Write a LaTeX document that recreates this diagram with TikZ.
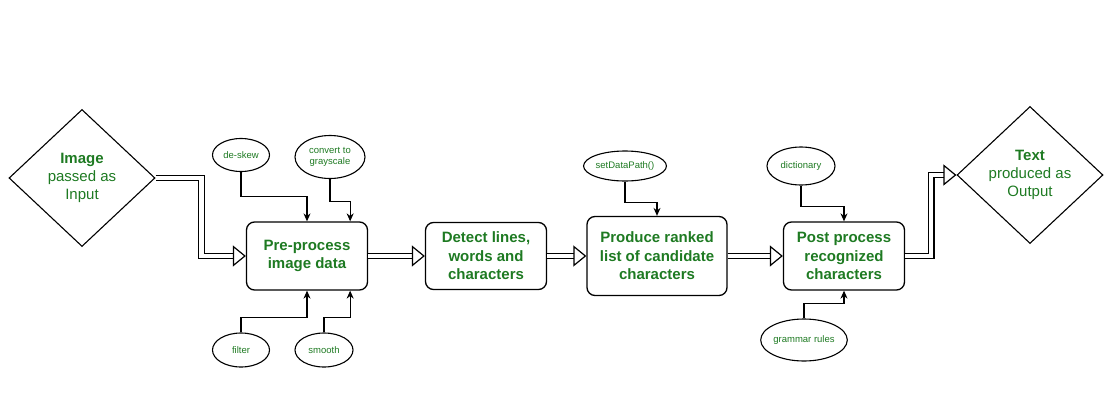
\documentclass[tikz,border=0pt]{standalone}
\usepackage{fontspec}
\setmainfont{Liberation Sans}
\usetikzlibrary{shapes.geometric,arrows.meta}
\definecolor{txtgreen}{RGB}{30,122,34}
\begin{document}
\begin{tikzpicture}[x=1pt, y=-1pt, line join=miter, >={Stealth[length=8pt,width=7pt]},
    proc/.style={draw, line width=1.3pt, rounded corners=8pt, align=center, inner sep=0pt,
        text=txtgreen, font=\fontsize{15}{18.5}\selectfont\bfseries},
    param/.style={draw, ellipse, line width=1.1pt, align=center, inner sep=0pt,
        text=txtgreen, font=\fontsize{9.5}{11}\selectfont},
    term/.style={draw, diamond, line width=1.1pt, align=center, inner sep=0pt,
        minimum width=146pt, minimum height=137pt, text=txtgreen,
        font=\fontsize{15}{18}\selectfont},
    flow/.style={double, double distance=4.5pt, line width=1.2pt,
        -{Triangle[open, length=13pt, width=21pt, line width=1.2pt]}},
    link/.style={->, line width=1.1pt}]
    \useasboundingbox (0,0) rectangle (1111,418);
    % stages
    \node[term] (input) at (82,178) {\textbf{Image}\\passed as\\Input};
    \node[proc, minimum width=121pt, minimum height=68pt] (pre) at (307,256) {Pre-process\\image data};
    \node[proc, minimum width=121pt, minimum height=67pt] (detect) at (486,256) {Detect lines,\\words and\\characters};
    \node[proc, minimum width=140pt, minimum height=79pt] (rank) at (657,256) {Produce ranked\\list of candidate\\characters};
    \node[proc, minimum width=121pt, minimum height=68pt] (post) at (844,256) {Post process\\recognized\\characters};
    \node[term] (output) at (1030,175) {\textbf{Text}\\produced as\\Output};
    % helpers
    \node[param, minimum width=57pt, minimum height=33pt] (deskew) at (241,155) {de-skew};
    \node[param, minimum width=70pt, minimum height=43pt] (gray) at (330,157) {convert to\\grayscale};
    \node[param, minimum width=57pt, minimum height=34pt] (filter) at (241,350) {filter};
    \node[param, minimum width=58pt, minimum height=34pt] (smooth) at (324,350) {smooth};
    \node[param, minimum width=77pt, minimum height=30pt] (datapath) at (625,166) {setDataPath()};
    \node[param, minimum width=68pt, minimum height=38pt] (dict) at (801,166) {dictionary};
    \node[param, minimum width=78pt, minimum height=42pt] (grammar) at (804,340) {grammar rules};
    % main flow
    \draw[flow] (input.east) -- ++(46,0) |- (pre.west);
    \draw[flow] (pre) -- (detect);
    \draw[flow] (detect) -- (rank);
    \draw[flow] (rank) -- (post);
    \draw[flow] (post.east) -- ++(26,0) |- (output.west);
    % side inputs
    \draw[link] (deskew.south) -- ++(0,24) -| (pre.north);
    \draw[link] (gray.south) -- ++(0,22) -| ([xshift=-18pt]pre.north east);
    \draw[link] (filter.north) -- ++(0,-15) -| (pre.south);
    \draw[link] (smooth.north) -- ++(0,-15) -| ([xshift=-18pt]pre.south east);
    \draw[link] (datapath.south) -- ++(0,21) -| (rank.north);
    \draw[link] (dict.south) -- ++(0,21) -| (post.north);
    \draw[link] (grammar.north) -- ++(0,-15) -| (post.south);
\end{tikzpicture}
\end{document}
